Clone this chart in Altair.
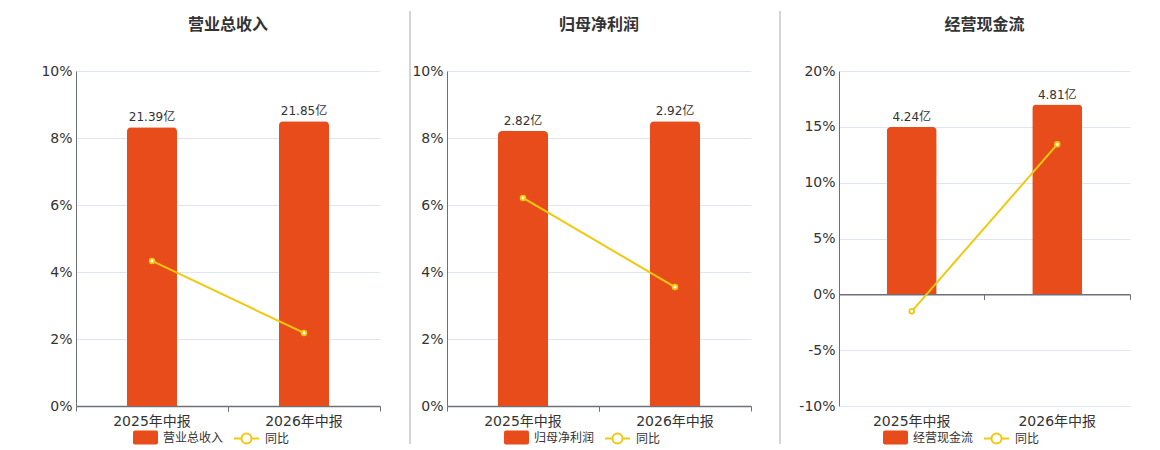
import altair as alt
import pandas as pd

periods = ["2025年中报", "2026年中报"]
titles = ["营业总收入", "归母净利润", "经营现金流"]
bar_values = [[21.39, 21.85], [2.82, 2.92], [4.24, 4.81]]
bar_labels = [["21.39亿", "21.85亿"], ["2.82亿", "2.92亿"], ["4.24亿", "4.81亿"]]
yoy_values = [[4.33, 2.18], [6.21, 3.55], [-1.52, 13.43]]
yoy_name = "同比"
yoy_ticks = [[0, 2, 4, 6, 8, 10], [0, 2, 4, 6, 8, 10], [-10, -5, 0, 5, 10, 15, 20]]
yoy_domains = [[0, 10], [0, 10], [-10, 20]]
bar_domains = [[0, 25.7], [0, 3.435], [-2.83, 5.66]]

FONT = "DejaVu Sans, Noto Sans CJK SC, sans-serif"
BAR = "#e84c1b"
YEL = "#f2c80f"
AXC = "#6e7079"
GRID = "#e0e6f1"
TXT = "#333333"

RR_PATH = ("M-0.85,-0.56 L0.85,-0.56 Q1,-0.56 1,-0.4 L1,0.4 Q1,0.56 0.85,0.56 "
           "L-0.85,0.56 Q-1,0.56 -1,0.4 L-1,-0.4 Q-1,-0.56 -0.85,-0.56 Z")
LINE_PATH = ("M-1,0 L-0.4,0 M0.4,0 L1,0 M0.4,0 A0.4,0.4 0 1,1 -0.4,0 "
             "A0.4,0.4 0 1,1 0.4,0 Z")

H = 335
widths = [304, 304, 291]
legend_x = [[57, 157], [57, 157], [44, 144]]
legend_y = 354


def panel(i):
    df = pd.DataFrame({
        "period": periods,
        "value": bar_values[i],
        "label": bar_labels[i],
        "yoy": yoy_values[i],
        "name": [titles[i]] * 2,
        "yname": [yoy_name] * 2,
    })
    lo, hi = yoy_domains[i]
    zero_off = -(0 - lo) / (hi - lo) * H
    xs = alt.Scale(paddingInner=0, paddingOuter=0)
    base = alt.Chart(df)

    bars = base.mark_bar(size=50, cornerRadiusTopLeft=4, cornerRadiusTopRight=4).encode(
        x=alt.X("period:N", sort=periods, scale=xs,
                axis=alt.Axis(title=None, domain=False, ticks=False, labelAngle=0,
                              labelFontSize=14, labelFont=FONT, labelColor=TXT,
                              labelPadding=8, orient="bottom")),
        y=alt.Y("value:Q", scale=alt.Scale(domain=bar_domains[i], nice=False, zero=True),
                axis=None),
        fill=alt.Fill("name:N", scale=alt.Scale(domain=[titles[i]], range=[BAR]),
                      legend=alt.Legend(orient="none", legendX=legend_x[i][0], legendY=legend_y,
                                        title=None, symbolType=RR_PATH, symbolSize=625,
                                        symbolStrokeWidth=0, labelFontSize=12, labelFont=FONT,
                                        labelColor=TXT, padding=0, labelOffset=5)),
    )
    text = base.mark_text(dy=-10, fontSize=12, font=FONT, color=TXT).encode(
        x=alt.X("period:N", sort=periods, axis=None),
        y=alt.Y("value:Q", scale=alt.Scale(domain=bar_domains[i], nice=False), axis=None),
        text="label:N",
    )
    line = base.mark_line(strokeWidth=2).encode(
        x=alt.X("period:N", sort=periods,
                axis=alt.Axis(title=None, orient="bottom", offset=zero_off, labels=False,
                              domain=True, domainColor=AXC, domainWidth=1.5, ticks=True,
                              tickColor=AXC, tickSize=5, bandPosition=0, grid=False)),
        y=alt.Y("yoy:Q", scale=alt.Scale(domain=yoy_domains[i], nice=False),
                axis=alt.Axis(orient="left", values=yoy_ticks[i], labelExpr="datum.value + '%'",
                              title=None, grid=True, gridColor=GRID, domainColor=AXC,
                              ticks=False, labelFontSize=14, labelFont=FONT, labelColor=TXT,
                              labelPadding=4)),
        stroke=alt.Stroke("yname:N", scale=alt.Scale(domain=[yoy_name], range=[YEL]),
                          legend=alt.Legend(orient="none", legendX=legend_x[i][1], legendY=legend_y,
                                            title=None, symbolType=LINE_PATH, symbolSize=625,
                                            symbolStrokeWidth=2, symbolFillColor="#ffffff",
                                            labelFontSize=12, labelFont=FONT, labelColor=TXT,
                                            padding=0, labelOffset=5)),
    )
    points = base.mark_point(shape="circle", fill="#ffffff", stroke=YEL, strokeWidth=1.8,
                             size=22, opacity=1, filled=False).encode(
        x=alt.X("period:N", sort=periods,
                axis=alt.Axis(title=None, orient="bottom", offset=zero_off, labels=False,
                              domain=False, ticks=True, tickColor=AXC, tickSize=5,
                              bandPosition=1, grid=False)),
        y=alt.Y("yoy:Q", scale=alt.Scale(domain=yoy_domains[i], nice=False), axis=None),
    )
    return alt.layer(bars, line, points, text).resolve_scale(y="independent").resolve_axis(
        x="independent", y="independent"
    ).properties(
        width=widths[i], height=H,
        title=alt.Title(titles[i], fontSize=16, fontWeight="bold", color=TXT, font=FONT,
                        offset=31, anchor="middle"),
    )


def separator(w, x):
    return alt.Chart(pd.DataFrame({"a": [0]})).mark_rule(color="#aaaaaa", strokeWidth=1).encode(
        x=alt.value(x), y=alt.value(-60), y2=alt.value(373)
    ).properties(width=w, height=H)


chart = alt.hconcat(
    panel(0), separator(29, 29), panel(1), separator(46, 28), panel(2), spacing=0
).resolve_scale(fill="independent", stroke="independent", x="independent", y="independent"
).resolve_legend(fill="independent", stroke="independent").properties(
    padding={"left": 32, "top": 2, "right": 5, "bottom": 0}
).configure_view(stroke=None)

chart.save("out.html", embed_options={"renderer": "svg", "actions": False})
